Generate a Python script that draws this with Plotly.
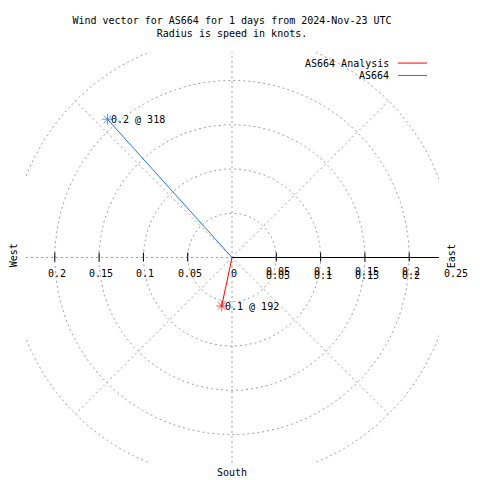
import numpy as np
import plotly.graph_objects as go

# ---- data ----
series_names = ["AS664 Analysis", "AS664"]
speeds = [0.056, 0.21]          # knots (radius)
directions = [192, 318]         # degrees, clockwise from north
series_colors = ["#ff0000", "#1f78e8"]

grid_radii = [0.05, 0.1, 0.15, 0.2, 0.25]
radial_angles = [45, 135, 225, 315]
left_ticks = [-0.2, -0.15, -0.1, -0.05]
right_ticks = [0.05, 0.1, 0.15, 0.2]
right_tick_labels = ["0.05", "0.1", "0.15", "0.2", "0.25"]
right_label_vals = [0.05, 0.1, 0.15, 0.2, 0.25]

FONT = "DejaVu Sans Mono"
GRID = "#a0a0a0"
XR = [-0.2325, 0.2336]
YR = [-0.232, 0.232]

fig = go.Figure()

# circular grid
th = np.linspace(0, 2 * np.pi, 721)
for r in grid_radii:
    fig.add_trace(go.Scatter(x=r * np.cos(th), y=r * np.sin(th), mode="lines",
                             line=dict(color=GRID, width=1, dash="2px,3px"),
                             hoverinfo="skip", showlegend=False))
# radial grid
for a in radial_angles:
    ar = np.deg2rad(a)
    fig.add_trace(go.Scatter(x=[0, 0.25 * np.cos(ar)], y=[0, 0.25 * np.sin(ar)], mode="lines",
                             line=dict(color=GRID, width=1, dash="2px,3px"),
                             hoverinfo="skip", showlegend=False))
# axis grid lines
fig.add_trace(go.Scatter(x=[0, 0], y=YR, mode="lines",
                         line=dict(color=GRID, width=1, dash="2px,3px"),
                         hoverinfo="skip", showlegend=False))
fig.add_trace(go.Scatter(x=[XR[0], 0], y=[0, 0], mode="lines",
                         line=dict(color=GRID, width=1, dash="2px,3px"),
                         hoverinfo="skip", showlegend=False))
# solid r-axis
fig.add_trace(go.Scatter(x=[0, XR[1]], y=[0, 0], mode="lines",
                         line=dict(color="black", width=1),
                         hoverinfo="skip", showlegend=False))

# data vectors
for name, s, d, c in zip(series_names, speeds, directions, series_colors):
    rad = np.deg2rad(d)
    x = s * np.sin(rad)
    y = s * np.cos(rad)
    fig.add_trace(go.Scatter(x=[0, x], y=[0, y], mode="lines+markers", name=name,
                             line=dict(color=c, width=1),
                             marker=dict(symbol=["circle", "asterisk-open"], size=[0, 9],
                                         color=c, line=dict(color=c, width=1)),
                             showlegend=False))
    fig.add_annotation(x=x, y=y, text=f"{s:.1f} @ {d}", showarrow=False,
                       xanchor="left", yanchor="middle", xshift=1,
                       font=dict(family=FONT, size=10, color="black"))

shapes = []
annotations = []
# tick marks
for t in left_ticks + right_ticks:
    shapes.append(dict(type="line", xref="x", yref="y", x0=t, x1=t, y0=-4, y1=5,
                       ysizemode="pixel", yanchor=0, line=dict(color="black", width=1)))
# tick labels
for t in left_ticks:
    annotations.append(dict(x=t, y=0, text=f"{abs(t):g}", showarrow=False, xshift=2,
                            xanchor="center", yanchor="middle", yshift=-16,
                            font=dict(family=FONT, size=10, color="black")))
annotations.append(dict(x=0, y=0, text="0", showarrow=False, xshift=2,
                        xanchor="center", yanchor="middle", yshift=-16,
                        font=dict(family=FONT, size=10, color="black")))
span = XR[1] - XR[0]
for v, lab in zip(right_label_vals, right_tick_labels):
    copies = (-14, -18) if v < XR[1] else (-16,)
    for ys in copies:
        annotations.append(dict(xref="paper", x=(v - XR[0]) / span, y=0, text=lab,
                                showarrow=False, xshift=2, xanchor="center",
                                yanchor="middle", yshift=ys,
                                font=dict(family=FONT, size=10, color="black")))

# compass labels
annotations.append(dict(xref="paper", yref="y", x=-0.012, y=0.002, text="West", textangle=-90,
                        showarrow=False, xanchor="right", yanchor="middle",
                        font=dict(family=FONT, size=10, color="black")))
annotations.append(dict(xref="paper", yref="y", x=1.012, y=0.002, text="East", textangle=-90,
                        showarrow=False, xanchor="left", yanchor="middle",
                        font=dict(family=FONT, size=10, color="black")))
annotations.append(dict(xref="x", yref="paper", x=0, y=-0.005, text="South",
                        showarrow=False, xanchor="center", yanchor="top",
                        font=dict(family=FONT, size=10, color="black")))

# manual legend (text left of line sample)
leg_y = [0.2195, 0.2055]
for i, (name, c) in enumerate(zip(series_names, series_colors)):
    annotations.append(dict(x=0.1795, y=leg_y[i], text=name, showarrow=False,
                            xanchor="right", yanchor="middle",
                            font=dict(family=FONT, size=10, color="black")))
    shapes.append(dict(type="line", xref="x", yref="y", x0=0.1874, x1=0.2201,
                       y0=leg_y[i], y1=leg_y[i], line=dict(color=c, width=1)))

# note: the page body adds an 8px offset, so margins are shifted by -8px
fig.update_layout(
    width=480, height=480,
    margin=dict(l=18, r=49, t=44, b=25),
    paper_bgcolor="white", plot_bgcolor="white",
    title=dict(text="Wind vector for AS664 for 1 days from 2024-Nov-23 UTC<br>Radius is speed in knots.",
               x=224 / 480, xanchor="center", yref="container", y=1 - 16 / 480, yanchor="top",
               font=dict(family=FONT, size=10, color="black")),
    xaxis=dict(range=XR, visible=False, fixedrange=True),
    yaxis=dict(range=YR, visible=False, fixedrange=True),
    shapes=shapes,
    annotations=list(fig.layout.annotations) + annotations,
    showlegend=False,
)

fig.write_html("out.html")
